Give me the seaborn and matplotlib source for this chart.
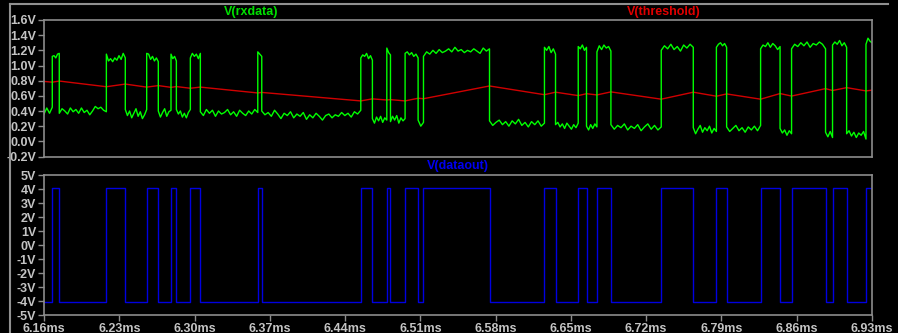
import matplotlib
matplotlib.use("Agg")
import matplotlib.pyplot as plt
import numpy as np
import pandas as pd
import seaborn as sns
from matplotlib.lines import Line2D

# transition times of V(dataout) in ms (rxdata switches at the same instants)
edges = [6.1677, 6.1742, 6.2180, 6.2356, 6.2555, 6.2663, 6.2781, 6.2831,
         6.2961, 6.3054, 6.3588, 6.3625, 6.4546, 6.4654, 6.4788, 6.4822,
         6.4958, 6.5079, 6.5129, 6.5743, 6.6254, 6.6357, 6.6568, 6.6645,
         6.6742, 6.6872, 6.7340, 6.7638, 6.7853, 6.7948, 6.8264, 6.8445,
         6.8552, 6.8868, 6.8933, 6.9064, 6.9244]
t_start, t_end = 6.16, 6.93

data_high, data_low = 4.04, -4.04

# V(threshold) read at start, each edge and the end
thr_volts = [0.79, 0.78, 0.795, 0.72, 0.755, 0.715, 0.735, 0.712, 0.722,
             0.70, 0.715, 0.638, 0.645, 0.533, 0.56, 0.545, 0.55, 0.533,
             0.568, 0.562, 0.73, 0.615, 0.648, 0.603, 0.628, 0.612, 0.652,
             0.556, 0.648, 0.595, 0.625, 0.556, 0.63, 0.597, 0.695, 0.67,
             0.708, 0.665, 0.675]

# V(rxdata) samples read per segment between edges (low, high, low, ...)
rx_segments = [
    [0.36, 0.44, 0.37, 0.45],
    [1.12, 1.13, 1.10, 1.15, 1.16],
    [0.37, 0.43, 0.40, 0.36, 0.44, 0.39, 0.42, 0.37, 0.44, 0.38, 0.41, 0.35,
     0.40, 0.46, 0.43, 0.45, 0.41, 0.39],
    [1.15, 1.06, 1.09, 1.05, 1.10, 1.07, 1.13, 1.08, 1.16, 1.10],
    [0.42, 0.34, 0.40, 0.31, 0.37, 0.43, 0.33, 0.39, 0.30, 0.35, 0.42],
    [1.16, 1.15, 1.08, 1.12, 1.06, 1.10, 1.05],
    [0.40, 0.32, 0.38, 0.43, 0.33, 0.39, 0.41],
    [1.15, 1.09, 1.12, 1.06],
    [0.42, 0.36, 0.40, 0.32, 0.37, 0.31, 0.38, 0.42],
    [1.10, 1.16, 1.12, 1.15, 1.09, 1.16],
    [0.39, 0.34, 0.42, 0.37, 0.41, 0.33, 0.40, 0.36, 0.38, 0.42, 0.35, 0.39,
     0.33, 0.41, 0.37, 0.34, 0.40, 0.36, 0.42, 0.38],
    [1.18, 1.15, 1.12],
    [0.40, 0.35, 0.38, 0.33, 0.41, 0.36, 0.30, 0.37, 0.34, 0.39, 0.31, 0.36,
     0.33, 0.38, 0.29, 0.35, 0.31, 0.37, 0.33, 0.28, 0.34, 0.36, 0.31, 0.35,
     0.33, 0.38, 0.34, 0.37, 0.32, 0.39, 0.36, 0.41],
    [1.10, 1.14, 1.12, 1.16, 1.09, 1.13, 1.07],
    [0.30, 0.24, 0.32, 0.27, 0.33, 0.25, 0.31, 0.28],
    [1.23, 1.17, 1.14],
    [0.26, 0.33, 0.28, 0.34, 0.24, 0.31, 0.27, 0.30],
    [1.16, 1.18, 1.14, 1.17, 1.12, 1.15, 1.10],
    [0.28, 0.20, 0.25],
    [1.12, 1.18, 1.15, 1.20, 1.16, 1.21, 1.17, 1.19, 1.22, 1.18, 1.24, 1.19,
     1.21, 1.17, 1.20, 1.18, 1.22, 1.19, 1.16, 1.23, 1.19, 1.22],
    [0.27, 0.21, 0.25, 0.28, 0.22, 0.26, 0.20, 0.27, 0.23, 0.29, 0.21, 0.25,
     0.19, 0.26, 0.22, 0.27, 0.20, 0.24],
    [1.24, 1.20, 1.25, 1.17, 1.22, 1.15],
    [0.22, 0.25, 0.19, 0.23, 0.17, 0.24, 0.20, 0.16, 0.22, 0.18, 0.24],
    [1.25, 1.22, 1.27, 1.20, 1.24],
    [0.20, 0.15, 0.22, 0.17, 0.23, 0.19],
    [1.18, 1.26, 1.21, 1.27, 1.23, 1.25, 1.19],
    [0.22, 0.16, 0.21, 0.18, 0.23, 0.15, 0.20, 0.17, 0.22, 0.14, 0.19, 0.23,
     0.16, 0.21, 0.15, 0.19],
    [1.20, 1.26, 1.22, 1.28, 1.21, 1.25, 1.19, 1.27, 1.23, 1.28, 1.24],
    [0.18, 0.10, 0.16, 0.21, 0.12, 0.18, 0.14, 0.20, 0.11, 0.17, 0.13],
    [1.24, 1.28, 1.30, 1.26, 1.29, 1.24],
    [0.19, 0.13, 0.17, 0.21, 0.14, 0.18, 0.12, 0.19, 0.15, 0.20, 0.14, 0.21],
    [1.22, 1.27, 1.25, 1.30, 1.24, 1.29, 1.26, 1.21, 1.25],
    [0.17, 0.11, 0.15, 0.08, 0.14, 0.10],
    [1.22, 1.28, 1.25, 1.30, 1.26, 1.31, 1.24, 1.29, 1.27, 1.31, 1.28, 1.22],
    [0.12, 0.06, 0.13, 0.05],
    [1.27, 1.31, 1.28, 1.33, 1.26, 1.30, 1.24],
    [0.10, 0.14, 0.07, 0.12, 0.05, 0.11, 0.08, 0.13, 0.03],
    [1.28, 1.36, 1.32, 1.30],
]

top_ticks = [-0.2, 0.0, 0.2, 0.4, 0.6, 0.8, 1.0, 1.2, 1.4, 1.6]
top_labels = ["-0.2V", "0.0V", "0.2V", "0.4V", "0.6V", "0.8V", "1.0V",
              "1.2V", "1.4V", "1.6V"]
bot_ticks = [-5, -4, -3, -2, -1, 0, 1, 2, 3, 4, 5]
bot_labels = ["-5V", "-4V", "-3V", "-2V", "-1V", "0V", "1V", "2V", "3V",
              "4V", "5V"]
x_ticks = [6.16, 6.23, 6.30, 6.37, 6.44, 6.51, 6.58, 6.65, 6.72, 6.79,
           6.86, 6.93]
x_labels = ["6.16ms", "6.23ms", "6.30ms", "6.37ms", "6.44ms", "6.51ms",
            "6.58ms", "6.65ms", "6.72ms", "6.79ms", "6.86ms", "6.93ms"]

# ---- build frames ----
bounds = [t_start] + edges + [t_end]
rx_t, rx_v = [], []
for i, seg in enumerate(rx_segments):
    ts = np.linspace(bounds[i], bounds[i + 1], len(seg))
    rx_t.extend(ts)
    rx_v.extend(seg)
rx = pd.DataFrame({"t": rx_t, "v": rx_v})
thr = pd.DataFrame({"t": bounds, "v": thr_volts})
levels = [data_low if i % 2 == 0 else data_high for i in range(len(bounds) - 1)]
dout = pd.DataFrame({"t": bounds, "v": levels + [levels[-1]]})

W, H = 898, 333
BG = "black"
FRAME = "#8c8c8c"
LBL = "#c4c4c4"
plt.rcParams["font.family"] = ["Liberation Sans", "DejaVu Sans"]
plt.rcParams["font.weight"] = "bold"

fig = plt.figure(figsize=(W / 100, H / 100), dpi=100, facecolor=BG)


def px_axes(x0, y0, x1, y1):
    return fig.add_axes([x0 / W, 1 - y1 / H, (x1 - x0) / W, (y1 - y0) / H])


ax1 = px_axes(44, 20, 872, 156.5)
ax2 = px_axes(44, 175, 872, 315)

for ax in (ax1, ax2):
    ax.set_facecolor(BG)
    for s in ax.spines.values():
        s.set_color(FRAME)
        s.set_linewidth(1.2)
    ax.tick_params(colors=FRAME, labelcolor=LBL, length=4, width=1,
                   direction="out", labelsize=9, pad=1.5)
    ax.set_xlim(t_start, t_end)

sns.lineplot(data=thr, x="t", y="v", ax=ax1, color="#d00000", lw=1.0,
             estimator=None, sort=False)
sns.lineplot(data=rx, x="t", y="v", ax=ax1, color="#00ff00", lw=1.0,
             estimator=None, sort=False)
sns.lineplot(data=dout, x="t", y="v", ax=ax2, color="#0000e0", lw=1.0,
             estimator=None, sort=False, drawstyle="steps-post")

ax1.set_ylim(-0.2, 1.6)
ax1.set_yticks(top_ticks)
ax1.set_yticklabels(top_labels)
ax1.tick_params(axis="x", bottom=False, labelbottom=False)
ax2.set_ylim(-5, 5)
ax2.set_yticks(bot_ticks)
ax2.set_yticklabels(bot_labels)
ax2.set_xticks(x_ticks)
ax2.set_xticklabels(x_labels)
for ax in (ax1, ax2):
    ax.set_xlabel("")
    ax.set_ylabel("")

# trace names
fig.text(251 / W, 1 - 12 / H, "V(rxdata)", color="#00e000", ha="center",
         va="center", fontsize=9, fontweight="bold")
fig.text(664 / W, 1 - 12 / H, "V(threshold)", color="#e00000", ha="center",
         va="center", fontsize=9, fontweight="bold")
fig.text(458 / W, 1 - 166 / H, "V(dataout)", color="#0000f0", ha="center",
         va="center", fontsize=9, fontweight="bold")

# window border
fig.add_artist(Line2D([10 / W, 888 / W], [1 - 4 / H, 1 - 4 / H],
                      color="#909090", lw=1.5))
fig.add_artist(Line2D([10 / W, 10 / W], [1 - 4 / H, 0], color="#909090",
                      lw=1.5))

fig.savefig("out.png", dpi=100, facecolor=BG)
